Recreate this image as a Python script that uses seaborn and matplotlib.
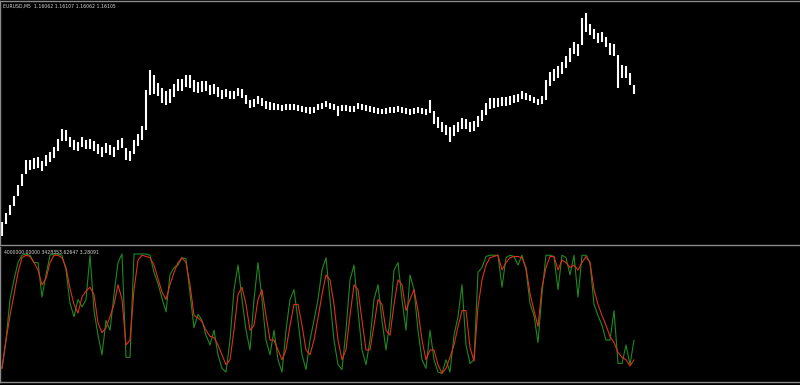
import numpy as np
import pandas as pd
import matplotlib
matplotlib.use("Agg")
import matplotlib.pyplot as plt
import seaborn as sns

# ---------------- data (EURUSD M5) ----------------
highs = [
    1.15420, 1.15465, 1.15505, 1.15550, 1.15605, 1.15660, 1.15730, 1.15730, 1.15740, 1.15745,
    1.15725, 1.15755, 1.15770, 1.15795, 1.15835, 1.15885, 1.15880, 1.15845, 1.15830, 1.15820,
    1.15845, 1.15830, 1.15835, 1.15825, 1.15810, 1.15795, 1.15815, 1.15805, 1.15795, 1.15830,
    1.15840, 1.15790, 1.15775, 1.15830, 1.15860, 1.15900, 1.16080, 1.16180, 1.16155, 1.16115,
    1.16090, 1.16075, 1.16085, 1.16110, 1.16135, 1.16135, 1.16155, 1.16155, 1.16130, 1.16120,
    1.16125, 1.16125, 1.16105, 1.16110, 1.16095, 1.16080, 1.16085, 1.16075, 1.16075, 1.16090,
    1.16085, 1.16055, 1.16030, 1.16035, 1.16050, 1.16040, 1.16025, 1.16020, 1.16015, 1.16010,
    1.16005, 1.16010, 1.16010, 1.16010, 1.16005, 1.16000, 1.15995, 1.15995, 1.15995, 1.16010,
    1.16015, 1.16025, 1.16015, 1.16010, 1.16000, 1.16005, 1.16005, 1.16000, 1.16000, 1.16015,
    1.16010, 1.16005, 1.16000, 1.15995, 1.15990, 1.15985, 1.15990, 1.15995, 1.15995, 1.16000,
    1.15995, 1.15990, 1.15985, 1.15990, 1.15995, 1.15990, 1.15985, 1.16030, 1.15975, 1.15945,
    1.15920, 1.15905, 1.15895, 1.15905, 1.15920, 1.15940, 1.15935, 1.15920, 1.15925, 1.15950,
    1.15980, 1.16015, 1.16040, 1.16040, 1.16040, 1.16045, 1.16045, 1.16050, 1.16055, 1.16060,
    1.16075, 1.16065, 1.16055, 1.16045, 1.16035, 1.16050, 1.16130, 1.16170, 1.16185, 1.16200,
    1.16220, 1.16250, 1.16290, 1.16320, 1.16310, 1.16440, 1.16465, 1.16410, 1.16385, 1.16365,
    1.16370, 1.16345, 1.16315, 1.16310, 1.16255, 1.16205, 1.16200, 1.16165, 1.16107,
]
lows = [
    1.15350, 1.15410, 1.15455, 1.15500, 1.15550, 1.15600, 1.15660, 1.15680, 1.15685, 1.15690,
    1.15675, 1.15700, 1.15720, 1.15740, 1.15775, 1.15825, 1.15825, 1.15795, 1.15780, 1.15775,
    1.15795, 1.15785, 1.15785, 1.15775, 1.15760, 1.15745, 1.15765, 1.15755, 1.15745, 1.15780,
    1.15790, 1.15730, 1.15725, 1.15760, 1.15800, 1.15830, 1.15880, 1.16055, 1.16060, 1.16050,
    1.16015, 1.16005, 1.16015, 1.16045, 1.16075, 1.16075, 1.16095, 1.16090, 1.16070, 1.16065,
    1.16070, 1.16075, 1.16055, 1.16060, 1.16045, 1.16035, 1.16045, 1.16035, 1.16035, 1.16050,
    1.16040, 1.16010, 1.15990, 1.15995, 1.16010, 1.16000, 1.15985, 1.15980, 1.15980, 1.15980,
    1.15975, 1.15980, 1.15980, 1.15980, 1.15975, 1.15970, 1.15965, 1.15960, 1.15965, 1.15980,
    1.15985, 1.15995, 1.15985, 1.15980, 1.15950, 1.15975, 1.15975, 1.15970, 1.15970, 1.15985,
    1.15980, 1.15975, 1.15970, 1.15965, 1.15960, 1.15960, 1.15960, 1.15965, 1.15965, 1.15970,
    1.15965, 1.15960, 1.15955, 1.15960, 1.15965, 1.15960, 1.15955, 1.15965, 1.15910, 1.15890,
    1.15870, 1.15855, 1.15820, 1.15850, 1.15870, 1.15885, 1.15885, 1.15870, 1.15875, 1.15895,
    1.15925, 1.15955, 1.15985, 1.15990, 1.15995, 1.16000, 1.16000, 1.16005, 1.16015, 1.16020,
    1.16035, 1.16030, 1.16025, 1.16015, 1.16005, 1.16010, 1.16030, 1.16100, 1.16125, 1.16140,
    1.16160, 1.16190, 1.16220, 1.16260, 1.16250, 1.16305, 1.16370, 1.16355, 1.16335, 1.16315,
    1.16320, 1.16295, 1.16255, 1.16250, 1.16090, 1.16140, 1.16140, 1.16105, 1.16062,
]

stoch_main = [
    7, 30, 63, 79, 93, 99, 100, 99, 93, 93, 65, 83, 99, 100, 100, 99, 87, 60, 49, 63,
    57, 63, 99, 54, 34, 18, 46, 38, 67, 93, 100, 16, 16, 100, 100, 100, 100, 99, 85, 76,
    64, 53, 83, 89, 91, 97, 96, 68, 40, 51,
    46, 34, 26, 38, 18, 7, 4, 30, 71, 91, 63, 38, 22, 63, 93, 63, 30, 18, 38, 14,
    4, 38, 63, 71, 46, 18, 6, 30, 46, 63, 87, 97, 63, 30, 10, 6, 38, 79, 91, 54,
    22, 10, 30, 63, 75, 46, 22, 46, 87, 93, 63, 38, 83, 71, 38, 14, 7, 38, 14, 4,
    3, 14, 4, 34, 49, 75, 26, 11, 14, 85, 89, 98, 99, 99, 99, 73, 97, 99, 98, 91,
    99, 87, 60, 50, 28, 68, 99, 99, 98, 71, 99, 97, 83, 99, 65, 99, 99, 93, 59, 50,
    42, 30, 30, 54, 11, 11, 26, 10, 30,
]
stoch_signal = [
    7, 30, 50, 67, 85, 97, 99, 98, 93, 87, 75, 80, 93, 99, 99, 97, 89, 72, 59, 52,
    65, 70, 73, 67, 44, 36, 40, 49, 59, 75, 63, 26, 30, 71, 95, 99, 98, 97, 91, 80,
    69, 63, 75, 85, 93, 97, 93, 75, 50, 48,
    45, 38, 33, 32, 26, 18, 10, 14, 38, 67, 73, 59, 38, 42, 63, 71, 50, 30, 30, 22,
    14, 22, 42, 59, 59, 42, 22, 18, 30, 48, 67, 83, 79, 59, 30, 14, 22, 50, 75, 71,
    46, 22, 22, 42, 63, 59, 38, 34, 59, 79, 75, 54, 63, 71, 54, 30, 14, 22, 22, 10,
    3, 7, 16, 26, 41, 54, 54, 24, 13, 57, 79, 91, 97, 98, 99, 87, 93, 97, 98, 98,
    97, 89, 68, 54, 41, 73, 89, 98, 98, 87, 95, 93, 89, 91, 87, 93, 98, 93, 71, 59,
    50, 42, 33, 28, 20, 16, 14, 9, 14,
]

title_main = "EURUSD,M5  1.16062 1.16107 1.16062 1.16105"
title_sub = "4000000.00000 3428353.62647 3.28091"

# ---------------- styling ----------------
sns.set_style("dark", {"axes.facecolor": "black", "figure.facecolor": "black",
                       "axes.edgecolor": "#808080", "grid.color": "black"})
plt.rcParams["font.family"] = ["DejaVu Sans"]

BORDER = "#8a8a8a"
n = len(highs)
idx = np.arange(n)

fig = plt.figure(figsize=(8, 3.85), dpi=100, facecolor="black")
ax1 = fig.add_axes([0, 0.36364, 1, 0.63377])
ax2 = fig.add_axes([0, 0.00779, 1, 0.35065])

# price bars
ax1.vlines(idx, lows, highs, color="white", linewidth=1.5)
ax1.set_xlim(-0.5, 199.5)
ax1.set_ylim(1.15305, 1.16525)

# stochastic
df = pd.DataFrame({"bar": np.concatenate([idx, idx]),
                   "value": stoch_main + stoch_signal,
                   "line": ["main"] * n + ["signal"] * n})
sns.lineplot(data=df, x="bar", y="value", hue="line",
             palette={"main": "#1f8a1f", "signal": "#e0301a"},
             linewidth=0.8, legend=False, ax=ax2, estimator=None)
ax2.set_xlim(-0.5, 199.5)
ax2.set_ylim(-4.07, 105.69)

for ax in (ax1, ax2):
    ax.set_facecolor("black")
    ax.grid(False)
    ax.set_xlabel("")
    ax.set_ylabel("")
    ax.set_yticks([])
    for s in ax.spines.values():
        s.set_color(BORDER)
        s.set_linewidth(1.0)
    ax.spines["right"].set_visible(False)

ax1.set_xticks([])
ax2.spines["top"].set_visible(False)
ax2.set_xticks(7.75 + 8 * np.arange(24))
ax2.tick_params(axis="x", direction="out", length=2, width=0.8,
                color=BORDER, labelbottom=False)

fig.text(3 / 800, 1 - 6 / 385, title_main, color="#d8d8d8", fontsize=3.3,
         ha="left", va="center")
fig.text(4 / 800, 1 - 253 / 385, title_sub, color="#d8d8d8", fontsize=3.3,
         ha="left", va="center")

fig.savefig("out.png", dpi=100, facecolor="black")
